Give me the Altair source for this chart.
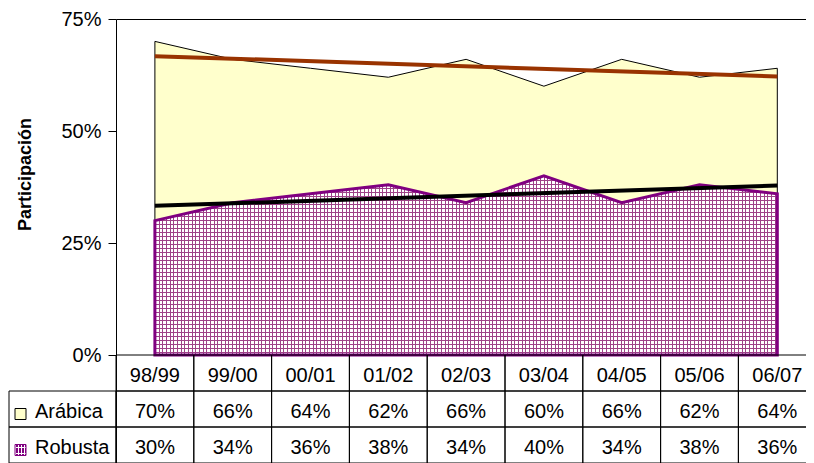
import altair as alt
import pandas as pd

# ---------------- data ----------------
seasons = ["98/99", "99/00", "00/01", "01/02", "02/03", "03/04", "04/05", "05/06", "06/07"]
arabica = [70, 66, 64, 62, 66, 60, 66, 62, 64]
robusta = [30, 34, 36, 38, 34, 40, 34, 38, 36]
series_names = ["Arábica", "Robusta"]
y_ticks = [0, 0.25, 0.5, 0.75]
y_title = "Participación"

# ---------------- layout constants ----------------
FONT = "Liberation Sans"
FS = 20
PAD_L = 108      # plot left edge = 8 + PAD_L
COL_W = 77.8     # px per season column
W = 798 - PAD_L  # visible view width (svg must fit 798 px)
H = 444          # plot + table height
PLOT_H = 336     # pixels for 0..75 %
Y_TOP = 0.75
Y_MIN = -Y_TOP * (H - PLOT_H) / PLOT_H
N = len(seasons)
X_MIN = -0.5
X_MAX = X_MIN + W / COL_W
LABEL_LEFT = X_MIN - 107 / COL_W

YELLOW = "#FFFFCC"
PURPLE = "#800080"
HATCH = "#9e4288"
BROWN = "#993300"

# ---------------- frames ----------------
idx = list(range(N))
long_df = pd.DataFrame({
    "idx": idx * 2,
    "season": seasons * 2,
    "series": [series_names[0]] * N + [series_names[1]] * N,
    "value": [v / 100 for v in arabica] + [v / 100 for v in robusta],
})

row_names = ["header"] + series_names
cells = []
for i, s in enumerate(seasons):
    cells.append({"idx": i, "row": "header", "text": s})
    cells.append({"idx": i, "row": series_names[0], "text": f"{arabica[i]}%"})
    cells.append({"idx": i, "row": series_names[1], "text": f"{robusta[i]}%"})
cells_df = pd.DataFrame(cells)
labels_df = pd.DataFrame({"row": series_names})


def stripes(period_px, line_px, extent_px, color, bg, vertical):
    stops = []
    step = period_px / extent_px
    lw = line_px / extent_px
    a = 0.0
    while a < 1.0:
        b = min(a + lw, 1.0)
        c = min(a + step, 1.0)
        stops += [alt.GradientStop(offset=round(a, 6), color=color),
                  alt.GradientStop(offset=round(b, 6), color=color),
                  alt.GradientStop(offset=round(b, 6), color=bg),
                  alt.GradientStop(offset=round(c, 6), color=bg)]
        a += step
    if vertical:
        return alt.LinearGradient(gradient="linear", stops=stops, x1=0, y1=0, x2=1, y2=0)
    return alt.LinearGradient(gradient="linear", stops=stops, x1=0, y1=0, x2=0, y2=1)


area_w = (N - 1) * COL_W
area_h = max(robusta) / 100 * PLOT_H / Y_TOP
vert_grad = stripes(11 / 3, 1, area_w, HATCH, "white", True)
horiz_grad = stripes(4, 1, area_h, HATCH, "rgba(255,255,255,0)", False)
sw_vert = stripes(3, 1, 11, "white", PURPLE, True)
sw_horiz = stripes(3, 1, 11, "white", "rgba(255,255,255,0)", False)

x_scale = alt.Scale(domain=[X_MIN, X_MAX], nice=False, zero=False)
y_scale = alt.Scale(domain=[Y_MIN, Y_TOP], nice=False, zero=False)
row_scale = alt.Scale(domain=row_names, range=[PLOT_H, H], paddingInner=0, paddingOuter=0)

X = alt.X("idx:Q", scale=x_scale, axis=None)
X_top = alt.X("idx:Q", scale=x_scale,
              axis=alt.Axis(orient="top", labels=False, ticks=False, grid=False,
                            domain=True, domainColor="black", title=None))
Y_axis = alt.Y(
    "value:Q", scale=y_scale,
    axis=alt.Axis(values=y_ticks, format=".0%", title=y_title, grid=False,
                  labelFont=FONT, labelFontSize=FS, labelColor="black", labelPadding=7,
                  tickSize=8, tickColor="black", domainColor="black",
                  titleFont=FONT, titleFontSize=18, titleFontWeight="bold", titleColor="black",
                  titleX=-86, titleY=155, titleAlign="center", titleBaseline="alphabetic"),
)
Y_plain = alt.Y("value:Q", scale=y_scale, axis=None)

base = alt.Chart(long_df)
arab = base.transform_filter(alt.datum.series == series_names[0])
rob = base.transform_filter(alt.datum.series == series_names[1])

arab_area = arab.mark_area(fill=YELLOW, stroke="black", strokeWidth=1).encode(x=X_top, y=Y_axis)
rob_area1 = rob.mark_area(fill=vert_grad).encode(x=X, y=Y_plain)
rob_area2 = rob.mark_area(fill=horiz_grad, stroke=PURPLE, strokeWidth=3).encode(x=X, y=Y_plain)

arab_trend = arab.transform_regression("idx", "value", extent=[0, N - 1]).mark_line(
    color=BROWN, strokeWidth=4).encode(x=X, y=Y_plain)
rob_trend = rob.transform_regression("idx", "value", extent=[0, N - 1]).mark_line(
    color="black", strokeWidth=4).encode(x=X, y=Y_plain)

cells_base = alt.Chart(cells_df).transform_calculate(
    x0="datum.idx - 0.5", x1="datum.idx + 0.5")
cell_rects = cells_base.mark_rect(fill="white", fillOpacity=0, stroke="black", strokeWidth=1).encode(
    x=alt.X("x0:Q", scale=x_scale, axis=None), x2="x1:Q",
    y=alt.Y("row:N", scale=row_scale, axis=None),
)
cell_text = cells_base.mark_text(font=FONT, fontSize=FS, color="black", dy=3, baseline="middle").encode(
    x=X, y=alt.Y("row:N", scale=row_scale, axis=None), text="text:N",
)

lab_base = alt.Chart(labels_df).transform_calculate(
    x0=f"{LABEL_LEFT}", x1=f"{X_MIN}")
lab_rects = lab_base.mark_rect(fill="white", fillOpacity=0, stroke="black", strokeWidth=1).encode(
    x=alt.X("x0:Q", scale=x_scale, axis=None), x2="x1:Q",
    y=alt.Y("row:N", scale=row_scale, axis=None),
)
lab_text = lab_base.mark_text(font=FONT, fontSize=FS, color="black", align="left", dx=26, dy=3,
                              baseline="middle").encode(
    x=alt.X("x0:Q", scale=x_scale, axis=None),
    y=alt.Y("row:N", scale=row_scale, axis=None), text="row:N",
)
sw_a = lab_base.transform_filter(alt.datum.row == series_names[0]).mark_square(
    size=121, filled=True, fill=YELLOW, stroke="black", strokeWidth=1, opacity=1,
    xOffset=11.5, yOffset=5).encode(
    x=alt.X("x0:Q", scale=x_scale, axis=None), y=alt.Y("row:N", scale=row_scale, axis=None))
sw_r1 = lab_base.transform_filter(alt.datum.row == series_names[1]).mark_square(
    size=121, filled=True, fill=sw_vert, opacity=1, xOffset=11.5, yOffset=5).encode(
    x=alt.X("x0:Q", scale=x_scale, axis=None), y=alt.Y("row:N", scale=row_scale, axis=None))
sw_r2 = lab_base.transform_filter(alt.datum.row == series_names[1]).mark_square(
    size=121, filled=True, fill=sw_horiz, stroke=PURPLE, strokeWidth=1, opacity=1,
    xOffset=11.5, yOffset=5).encode(
    x=alt.X("x0:Q", scale=x_scale, axis=None), y=alt.Y("row:N", scale=row_scale, axis=None))

chart = alt.layer(
    arab_area, rob_area1, rob_area2, arab_trend, rob_trend,
    cell_rects, cell_text, lab_rects, lab_text, sw_a, sw_r1, sw_r2,
).resolve_scale(x="independent", y="independent").properties(
    width=W, height=H,
    padding={"left": PAD_L, "top": 11, "right": 0, "bottom": 0},
    autosize=alt.AutoSizeParams(type="none"),
).configure_view(strokeWidth=0)

chart.save("out.html", embed_options={"renderer": "svg", "actions": False})
